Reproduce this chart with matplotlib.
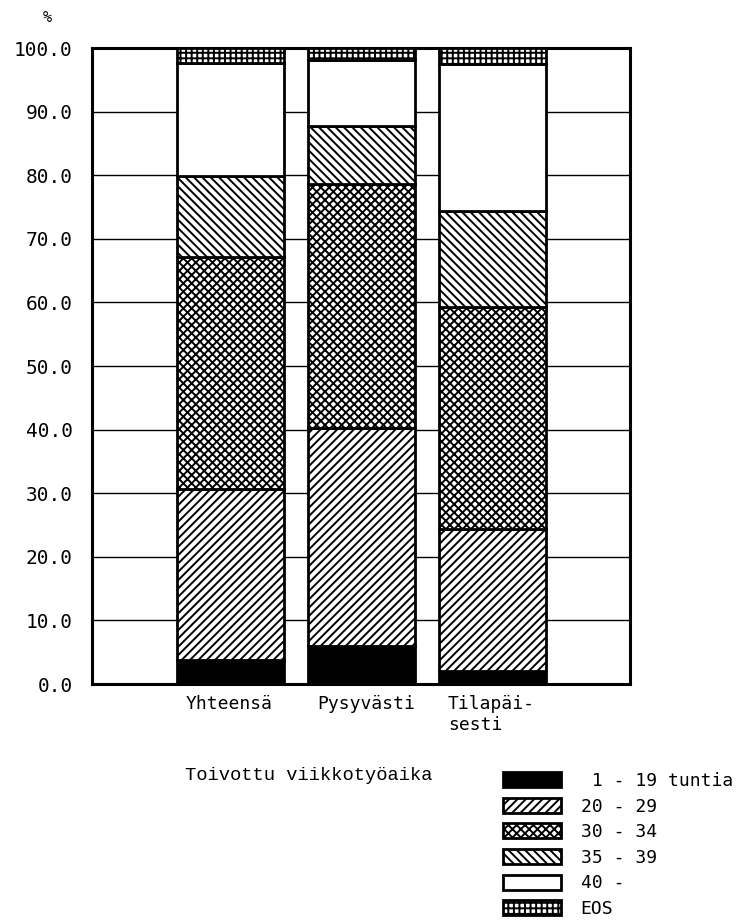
import numpy as np
import matplotlib.pyplot as plt
from matplotlib.ticker import MultipleLocator, FormatStrFormatter

categories = ['Yhteensä', 'Pysyvästi', 'Tilapäi-\nsesti']
groups = [' 1 - 19 tuntia', '20 - 29', '30 - 34', '35 - 39', '40 -', 'EOS']

# osuudet (%) ryhmittäin, järjestys: Yhteensä, Pysyvästi, Tilapäisesti
h_1_19 = [3.7, 6.0, 2.1]
h_20_29 = [27.0, 34.2, 22.3]
h_30_34 = [36.4, 38.4, 34.9]
h_35_39 = [12.8, 9.2, 15.1]
h_40 = [17.7, 10.3, 23.1]
h_eos = [2.4, 1.9, 2.5]

series = [h_1_19, h_20_29, h_30_34, h_35_39, h_40, h_eos]
faces = ['black', 'white', 'white', 'white', 'white', 'white']
hatches = [None, '////', 'xxxx', '\\\\\\\\', None, '+++']

plt.rcParams['hatch.linewidth'] = 1.4
mono = 'DejaVu Sans Mono'

fig = plt.figure(figsize=(7.4, 9.22), dpi=100)
ax = fig.add_axes([0.1243, 0.2581, 0.7271, 0.6898])

x = np.arange(len(categories))
bottom = np.zeros(len(categories))
for vals, fc, h, lab in zip(series, faces, hatches, groups):
    ax.bar(x, vals, 0.82, bottom=bottom, color=fc, edgecolor='black',
           hatch=h, linewidth=2.0, label=lab, zorder=3)
    bottom += np.array(vals)

ax.set_xlim(-1.057, 3.05)
ax.set_ylim(0, 100)
ax.yaxis.set_major_locator(MultipleLocator(10))
ax.yaxis.set_major_formatter(FormatStrFormatter('%.1f'))
ax.grid(axis='y', color='black', linewidth=1.0, zorder=0)
ax.set_axisbelow(True)
for s in ax.spines.values():
    s.set_linewidth(2.2)

ax.set_xticks(x - 0.34)
ax.set_xticklabels(categories, family=mono, fontsize=13, ha='left', va='top')
ax.tick_params(axis='x', length=0, pad=8)
ax.tick_params(axis='y', length=0, pad=14, labelsize=14)
for t in ax.get_yticklabels():
    t.set_family(mono)

fig.text(47 / 740, 1 - 18 / 922, '%', family=mono, fontsize=11,
         ha='center', va='center')
fig.text(185 / 740, 1 - 775 / 922, 'Toivottu viikkotyöaika',
         family='Liberation Mono', fontsize=13.5, va='center')

fig.legend(loc='upper left', bbox_to_anchor=(503 / 740, 1 - 772 / 922),
           frameon=False, prop={'family': mono, 'size': 13},
           handlelength=3.2, handleheight=0.9, handletextpad=1.1,
           labelspacing=0.42, borderpad=0, borderaxespad=0)

fig.savefig('out.png', dpi=100)
